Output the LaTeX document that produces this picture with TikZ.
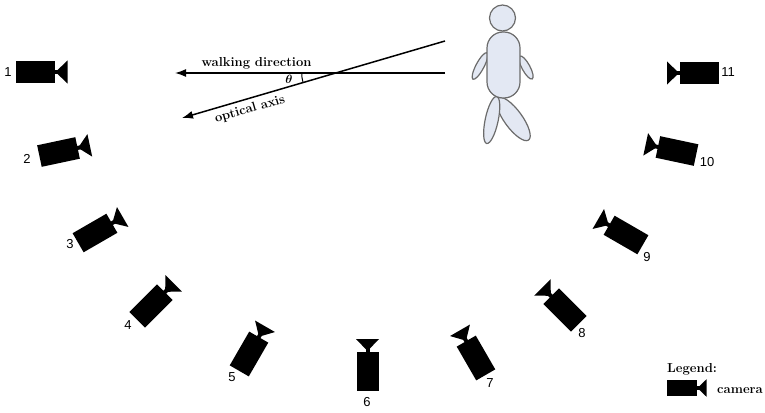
\documentclass[tikz,border=0pt]{standalone}
\usepackage{fontspec}
\newfontfamily\numfont{Liberation Sans}
\usetikzlibrary{arrows.meta,angles}
\definecolor{figfill}{HTML}{E3E8F3}
\definecolor{figline}{HTML}{6B6B6B}
\tikzset{
  % video camera: body centred on the origin, lens opening towards +x
  cam/.pic={
    \fill (-19.5,-11) rectangle (19.5,11);
    \fill (19,-2) rectangle (23,2);
    \fill (20,0) -- (32,-11.5) -- (32,11.5) -- cycle;
  },
  camlabel/.style={font=\numfont\fontsize{13}{13}\selectfont, inner sep=0pt},
  caption/.style={font=\bfseries\fontsize{13}{15}\selectfont, inner sep=0pt},
  dirarrow/.style={line width=1.5pt, -{Latex[length=11pt,width=8pt]}},
  figure/.style={draw=figline, fill=figfill, line width=1.2pt},
}
\begin{document}
\begin{tikzpicture}[x=1pt,y=-1pt]
\useasboundingbox (0,0) rectangle (765,412);

% cameras on the arc, each aimed at the walking person
\pic[rotate=0]   (c1)  at (35.5,72)  {cam};
\pic[rotate=12]  (c2)  at (58.5,152) {cam};
\pic[rotate=30]  (c3)  at (95,233)   {cam};
\pic[rotate=45]  (c4)  at (151,306)  {cam};
\pic[rotate=60]  (c5)  at (249,354)  {cam};
\pic[rotate=90]  (c6)  at (367.5,371) {cam};
\pic[rotate=120] (c7)  at (476,358)  {cam};
\pic[rotate=135] (c8)  at (565,310)  {cam};
\pic[rotate=150] (c9)  at (626,235)  {cam};
\pic[rotate=168] (c10) at (677,151)  {cam};
\pic[rotate=180] (c11) at (699,73)   {cam};

% camera numbers
\node[camlabel] (n1)  at (8,72)    {1};
\node[camlabel] (n2)  at (27,159)  {2};
\node[camlabel] (n3)  at (70,244)  {3};
\node[camlabel] (n4)  at (128,325) {4};
\node[camlabel] (n5)  at (232,377) {5};
\node[camlabel] (n6)  at (367,402) {6};
\node[camlabel] (n7)  at (490,383) {7};
\node[camlabel] (n8)  at (582,333) {8};
\node[camlabel] (n9)  at (647,257) {9};
\node[camlabel] (n10) at (707,162) {10};
\node[camlabel] (n11) at (728,72)  {11};

% walking direction and optical axis
\coordinate (W1) at (445,73);
\coordinate (W2) at (175,73);
\coordinate (O1) at (445,41);
\coordinate (O2) at (182,118);
\draw[dirarrow] (W1) -- (W2);
\draw[dirarrow] (O1) -- (O2);
\coordinate (X) at (intersection of W1--W2 and O1--O2);
\pic[draw, line width=1pt, angle radius=34pt] (theta) {angle=W2--X--O2};
\node[inner sep=0pt, font=\fontsize{12}{12}\selectfont\boldmath] (th) at (289,79.5) {$\theta$};
\node[caption, anchor=base] (wd) at (256.5,66.5) {walking direction};
\node[caption, rotate=16.3] (oa) at (250,109.5) {optical axis};

% walking person
\draw[figure, rotate around={126:(513.3,119)}] (513.3,119) circle[x radius=26pt, y radius=9pt];
\draw[figure, rotate around={78:(491.7,120)}] (491.7,120) circle[x radius=24pt, y radius=6.5pt];
\draw[figure, rotate around={62:(480,66)}] (480,66) circle[x radius=15pt, y radius=4pt];
\draw[figure, rotate around={118.5:(526,67.5)}] (526,67.5) circle[x radius=13pt, y radius=4pt];
\draw[figure, rounded corners=16pt] (487,32) rectangle (520,98);
\draw[figure] (502.5,18) circle[radius=13pt];

% legend
\node[caption, anchor=base west] (lg) at (667,372) {Legend:};
\pic[scale=0.77] (lc) at (682,388) {cam};
\node[caption, anchor=base west] (lt) at (717,393) {camera};
\end{tikzpicture}
\end{document}
